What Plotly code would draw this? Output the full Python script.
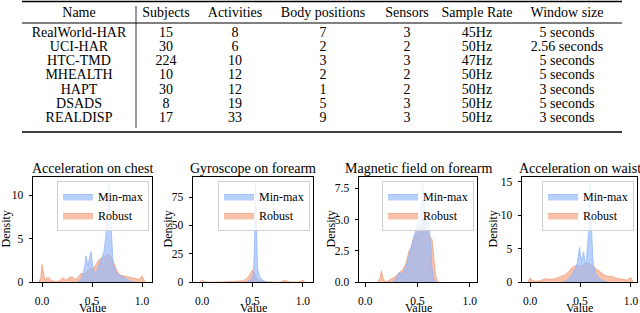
import plotly.graph_objects as go

# ---------------- table data ----------------
col_names = ["Name", "Subjects", "Activities", "Body positions", "Sensors", "Sample Rate", "Window size"]
names = ["RealWorld-HAR", "UCI-HAR", "HTC-TMD", "MHEALTH", "HAPT", "DSADS", "REALDISP"]
subjects = [15, 30, 224, 10, 30, 8, 17]
activities = [8, 6, 10, 12, 12, 19, 33]
body_positions = [7, 2, 3, 2, 1, 5, 9]
sensors = [3, 2, 3, 2, 2, 3, 3]
sample_rate = ["45Hz", "50Hz", "47Hz", "50Hz", "50Hz", "50Hz", "50Hz"]
window_size = ["5 seconds", "2.56 seconds", "5 seconds", "5 seconds", "3 seconds", "5 seconds", "3 seconds"]

# ---------------- density data ----------------
titles = ["Acceleration on chest", "Gyroscope on forearm", "Magnetic field on forearm", "Acceleration on waist"]
x_label = "Value"
y_label = "Density"

robust_chest_x = [-0.03, -0.01, 0.0, 0.01, 0.03, 0.06, 0.09, 0.13, 0.17, 0.21, 0.24, 0.27, 0.30, 0.33, 0.36, 0.39,
                  0.42, 0.45, 0.48, 0.51, 0.54, 0.57, 0.60, 0.63, 0.66, 0.69, 0.72, 0.75, 0.78, 0.82, 0.86, 0.90,
                  0.94, 0.97, 1.00, 1.03]
robust_chest_y = [0, 0.6, 2.0, 1.2, 0.2, 0.6, 0.2, 0.05, 0.1, 0.5, 0.2, 0.5, 0.6, 0.3, 0.5, 1.0,
                  0.9, 1.2, 1.6, 1.4, 2.0, 2.6, 2.7, 3.0, 3.2, 3.0, 2.2, 1.3, 0.8, 0.7, 0.6, 0.5,
                  0.45, 0.3, 0.7, 0]
minmax_chest_x = [0.36, 0.39, 0.41, 0.43, 0.44, 0.45, 0.46, 0.47, 0.48, 0.49, 0.50, 0.52, 0.54, 0.56, 0.58, 0.60,
                  0.62, 0.64, 0.65, 0.66, 0.67, 0.675, 0.68, 0.69, 0.70, 0.71, 0.73, 0.76, 0.80, 0.84, 0.88, 0.92]
minmax_chest_y = [0, 0.3, 0.9, 2.0, 3.0, 2.5, 1.8, 2.5, 3.3, 3.5, 2.5, 1.2, 1.0, 1.6, 2.4, 2.8,
                  3.5, 5.5, 7.5, 9.5, 11.5, 11.0, 9.0, 6.0, 3.5, 2.2, 1.4, 0.9, 0.6, 0.4, 0.1, 0]

robust_gyro_x = [-0.02, 0.0, 0.02, 0.05, 0.2, 0.3, 0.35, 0.4, 0.44, 0.47, 0.49, 0.50, 0.51, 0.53, 0.55, 0.58,
                 0.62, 0.7, 0.78, 0.80, 0.82, 0.84, 0.88, 0.95, 0.98, 1.0, 1.02]
robust_gyro_y = [0, 1.5, 0.3, 0, 0, 0.2, 0.5, 1.0, 2.5, 6.0, 9.5, 10.5, 9.0, 5.0, 2.5, 1.0,
                 0.3, 0, 0, 0.8, 1.5, 0.8, 0, 0, 0.8, 1.5, 0]
minmax_gyro_x = [0.44, 0.48, 0.50, 0.51, 0.52, 0.525, 0.53, 0.535, 0.54, 0.55, 0.57, 0.60, 0.64]
minmax_gyro_y = [0, 1.5, 4.0, 10, 30, 60, 88, 60, 30, 12, 5, 1.5, 0]

robust_mag_x = [0.12, 0.14, 0.155, 0.17, 0.19, 0.22, 0.26, 0.30, 0.33, 0.36, 0.39, 0.42, 0.44, 0.46, 0.48, 0.50,
                0.52, 0.54, 0.56, 0.58, 0.60, 0.62, 0.64, 0.65, 0.66, 0.67, 0.68, 0.70]
robust_mag_y = [0, 0.3, 0.9, 0.3, 0, 0.1, 0.3, 0.5, 0.8, 1.0, 1.5, 2.5, 2.7, 3.5, 3.9, 3.8,
                4.2, 4.5, 5.2, 4.5, 3.9, 3.6, 3.4, 2.5, 1.2, 0.8, 0.3, 0]
minmax_mag_x = [0.27, 0.30, 0.32, 0.33, 0.35, 0.37, 0.40, 0.43, 0.46, 0.48, 0.50, 0.52, 0.53, 0.54, 0.55, 0.56,
                0.57, 0.58, 0.60, 0.61, 0.62, 0.63, 0.64, 0.65, 0.67]
minmax_mag_y = [0, 0.4, 0.7, 0.8, 0.5, 0.9, 1.5, 2.5, 3.5, 4.0, 4.6, 5.0, 5.8, 6.5, 8.0, 6.5,
                5.5, 5.4, 5.5, 4.8, 3.5, 2.0, 1.0, 0.4, 0]

robust_waist_x = [-0.02, 0.0, 0.02, 0.05, 0.10, 0.15, 0.20, 0.25, 0.30, 0.34, 0.38, 0.42, 0.46, 0.50, 0.54, 0.58,
                  0.62, 0.66, 0.70, 0.74, 0.78, 0.81, 0.84, 0.88, 0.92, 0.96, 0.99, 1.00, 1.02]
robust_waist_y = [0, 0.6, 0.3, 0.1, 0.2, 0.5, 0.4, 0.5, 0.8, 1.0, 1.5, 2.2, 2.5, 2.4, 2.7, 2.8,
                  2.4, 1.9, 1.5, 1.0, 0.8, 0.9, 0.6, 0.5, 0.4, 0.3, 0.6, 0.7, 0]
minmax_waist_x = [0.34, 0.38, 0.42, 0.45, 0.47, 0.48, 0.49, 0.50, 0.51, 0.52, 0.53, 0.54, 0.55, 0.56, 0.57, 0.58,
                  0.59, 0.595, 0.60, 0.61, 0.62, 0.63, 0.65, 0.68, 0.72, 0.76]
minmax_waist_y = [0, 0.4, 1.2, 2.0, 3.0, 4.5, 5.2, 4.0, 3.2, 3.8, 4.5, 3.5, 2.5, 3.5, 5.0, 7.5,
                  12, 15, 12, 7, 4, 2.5, 1.3, 0.6, 0.2, 0]

panels = [
    (robust_chest_x, robust_chest_y, minmax_chest_x, minmax_chest_y, [0, 12.1], [0, 5, 10], ["0", "5", "10"]),
    (robust_gyro_x, robust_gyro_y, minmax_gyro_x, minmax_gyro_y, [0, 92.7], [0, 25, 50, 75], ["0", "25", "50", "75"]),
    (robust_mag_x, robust_mag_y, minmax_mag_x, minmax_mag_y, [0, 8.4], [0, 2.5, 5, 7.5], ["0.0", "2.5", "5.0", "7.5"]),
    (robust_waist_x, robust_waist_y, minmax_waist_x, minmax_waist_y, [0, 15.7], [0, 5, 10, 15], ["0", "5", "10", "15"]),
]

# ---------------- layout geometry ----------------
W, H = 640, 313
FONT = "Liberation Serif"
x_domains = [(33, 152), (193, 313), (359, 477), (522, 637)]
x_ranges = [[-0.09, 1.1], [-0.09, 1.1], [-0.06, 1.07], [-0.08, 1.06]]
ylabel_offsets = [28, 26, 29, 30]
y_top, y_bot = 177, 282
XLABEL_PX = 308
TITLE_PX = 168

# table geometry (pixels)
TBL_L, TBL_R = 22, 622
TBL_BOTTOM = 134
col_centers = [79, 166, 235, 323, 407, 477, 567]
ROW0_PX, ROW_PITCH, HEADER_PX = 33, 14.3, 13

BLUE_FILL = "rgba(150,185,250,0.68)"
BLUE_LINE = "rgba(140,178,248,0.9)"
ORANGE_FILL = "rgba(242,160,125,0.65)"
ORANGE_LINE = "rgba(240,155,120,0.9)"

fig = go.Figure()

# ---- table drawn as text marks on its own hidden axes (x in px, y in row units) ----
table_cols = [names, subjects, activities, body_positions, sensors, sample_rate, window_size]
header_row = (HEADER_PX - ROW0_PX) / ROW_PITCH
y_rng = [(TBL_BOTTOM - ROW0_PX) / ROW_PITCH, (0 - ROW0_PX) / ROW_PITCH]
fig.add_trace(go.Scatter(x=col_centers, y=[header_row] * len(col_names), text=col_names, mode="text",
                         textposition="middle center", textfont=dict(family=FONT, size=14, color="black"),
                         xaxis="x5", yaxis="y5", showlegend=False, hoverinfo="skip"))
for j, col in enumerate(table_cols):
    fig.add_trace(go.Scatter(x=[col_centers[j]] * len(col), y=list(range(len(col))),
                             text=[str(v) for v in col], mode="text", textposition="middle center",
                             textfont=dict(family=FONT, size=14, color="black"),
                             xaxis="x5", yaxis="y5", showlegend=False, hoverinfo="skip"))
fig.update_layout(
    xaxis5=dict(domain=[0, 1], range=[0, W], visible=False, fixedrange=True, anchor="y5", automargin=False),
    yaxis5=dict(domain=[1 - TBL_BOTTOM / H, 1], range=y_rng, visible=False, fixedrange=True, anchor="x5",
                automargin=False),
)

shapes = []
shapes.append(dict(type="line", xref="paper", yref="paper", x0=TBL_L / W, x1=TBL_R / W,
                   y0=1 - 1.5 / H, y1=1 - 1.5 / H, line=dict(color="black", width=1.5)))
shapes.append(dict(type="line", xref="paper", yref="paper", x0=TBL_L / W, x1=TBL_R / W,
                   y0=1 - 23 / H, y1=1 - 23 / H, line=dict(color="black", width=1)))
shapes.append(dict(type="line", xref="paper", yref="paper", x0=TBL_L / W, x1=TBL_R / W,
                   y0=1 - 132 / H, y1=1 - 132 / H, line=dict(color="black", width=1.5)))
shapes.append(dict(type="line", xref="paper", yref="paper", x0=136 / W, x1=136 / W,
                   y0=1 - 6 / H, y1=1 - 128 / H, line=dict(color="black", width=0.8)))

annotations = []
for i, (rx, ry, mx, my, yr, yt, ytt) in enumerate(panels):
    n = "" if i == 0 else str(i + 1)
    lg = "legend" if i == 0 else "legend" + str(i + 1)
    fig.add_trace(go.Scatter(x=rx, y=ry, mode="lines", fill="tozeroy", fillcolor=ORANGE_FILL,
                             line=dict(color=ORANGE_LINE, width=0.8), name="Robust",
                             xaxis="x" + n, yaxis="y" + n, legend=lg, legendrank=2))
    fig.add_trace(go.Scatter(x=mx, y=my, mode="lines", fill="tozeroy", fillcolor=BLUE_FILL,
                             line=dict(color=BLUE_LINE, width=0.8), name="Min-max",
                             xaxis="x" + n, yaxis="y" + n, legend=lg, legendrank=1))
    x0, x1 = x_domains[i]
    axis_common = dict(showline=True, mirror=True, linecolor="black", linewidth=1,
                       ticks="outside", ticklen=3.5, tickcolor="black", tickwidth=1,
                       showgrid=False, zeroline=False, automargin=False,
                       tickfont=dict(family=FONT, size=11.5, color="black"))
    fig.update_layout(**{
        "xaxis" + n: dict(domain=[x0 / W, x1 / W], anchor="y" + n, range=x_ranges[i],
                          tickvals=[0, 0.5, 1.0], ticktext=["0.0", "0.5", "1.0"], ticklabelstandoff=5,
                          **axis_common),
        "yaxis" + n: dict(domain=[1 - y_bot / H, 1 - y_top / H], anchor="x" + n, range=yr,
                          tickvals=yt, ticktext=ytt, ticklabelstandoff=3,
                          **axis_common),
        lg: dict(x=(x1 - 3) / W, y=1 - (y_top + 4) / H, xanchor="right", yanchor="top",
                 bgcolor="rgba(255,255,255,0.8)", bordercolor="#d0d0d0", borderwidth=1,
                 font=dict(family=FONT, size=12, color="black"), itemwidth=30, tracegroupgap=0,
                 traceorder="normal"),
    })
    annotations.append(dict(text=titles[i], xref="paper", yref="paper", x=(x0 + x1) / 2 / W,
                            y=1 - TITLE_PX / H, xanchor="center", yanchor="middle", showarrow=False,
                            font=dict(family=FONT, size=14, color="black")))
    annotations.append(dict(text=x_label, xref="paper", yref="paper", x=(x0 + x1) / 2 / W,
                            y=1 - XLABEL_PX / H, xanchor="center", yanchor="middle", showarrow=False,
                            font=dict(family=FONT, size=12, color="black")))
    annotations.append(dict(text=y_label, xref="paper", yref="paper", x=(x0 - ylabel_offsets[i]) / W,
                            y=1 - (y_top + y_bot) / 2 / H, xanchor="center", yanchor="middle",
                            showarrow=False, textangle=-90,
                            font=dict(family=FONT, size=12, color="black")))

fig.update_layout(width=W, height=H, margin=dict(l=0, r=0, t=0, b=0, autoexpand=False),
                  paper_bgcolor="white", plot_bgcolor="white",
                  shapes=shapes, annotations=annotations, showlegend=True)

fig.write_html("out.html", config={"displayModeBar": False},
               post_script="document.body.style.margin='0';document.body.style.padding='0';")
